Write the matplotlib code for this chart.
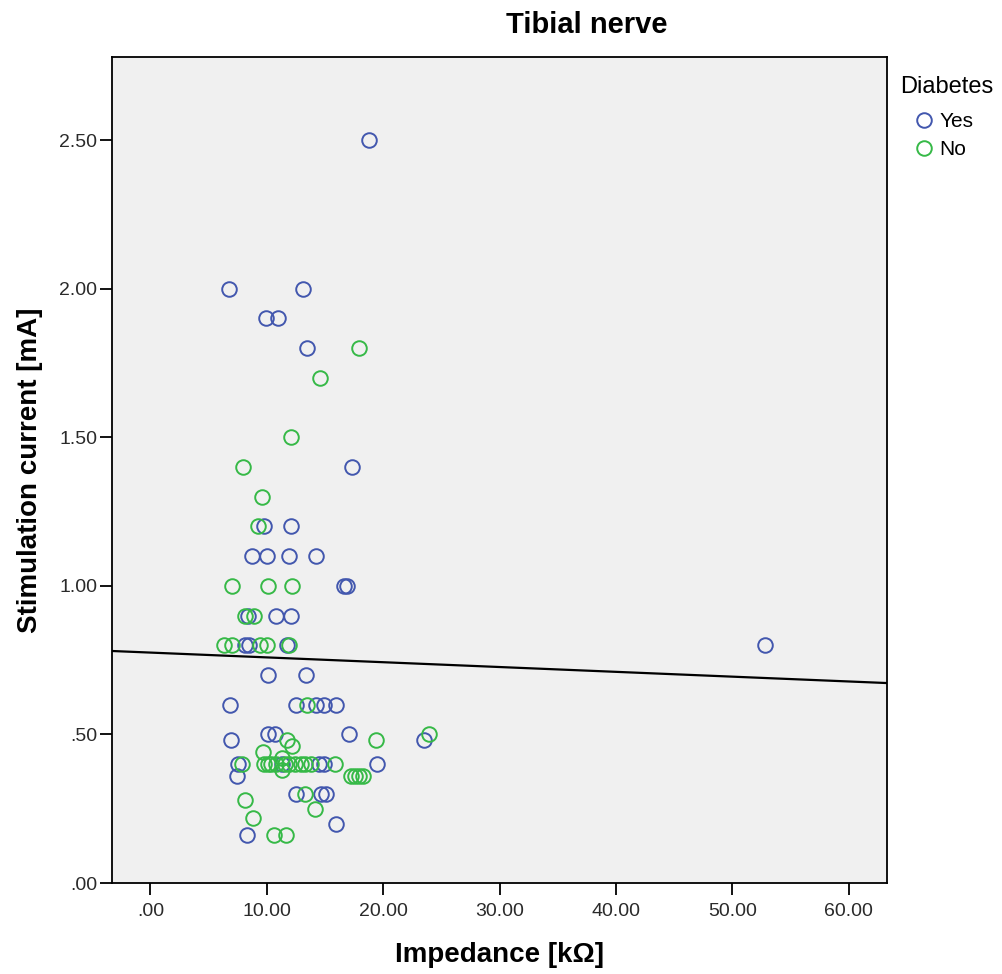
import matplotlib
matplotlib.use("Agg")
import matplotlib.pyplot as plt
from matplotlib.ticker import FuncFormatter
import numpy as np

# ---- data ----
yes_impedance = [18.75, 6.75, 13.13, 9.92, 10.98, 13.5, 17.33, 9.78, 12.04,
                 8.75, 9.98, 11.93, 14.2, 16.6, 16.9, 8.4, 10.8, 12.07,
                 8.12, 8.49, 11.78, 52.85, 10.1, 13.36, 6.83, 12.55, 14.27,
                 14.9, 15.93, 10.1, 10.7, 17.05, 6.92, 23.5, 7.55, 11.3,
                 14.5, 14.95, 19.5, 7.46, 12.55, 14.7, 15.13, 15.93, 8.27]
yes_current = [2.50, 2.00, 2.00, 1.90, 1.90, 1.80, 1.40, 1.20, 1.20,
               1.10, 1.10, 1.10, 1.10, 1.00, 1.00, 0.90, 0.90, 0.90,
               0.80, 0.80, 0.80, 0.80, 0.70, 0.70, 0.60, 0.60, 0.60,
               0.60, 0.60, 0.50, 0.50, 0.50, 0.48, 0.48, 0.40, 0.40,
               0.40, 0.40, 0.40, 0.36, 0.30, 0.30, 0.30, 0.20, 0.16]

no_impedance = [17.93, 14.6, 12.04, 7.98, 9.55, 9.27, 6.98, 10.12, 12.2,
                8.1, 8.9, 6.3, 7.0, 9.45, 10.0, 11.95, 13.47, 11.75, 12.2,
                19.4, 23.95, 9.64, 11.27, 7.83, 9.8, 10.1, 10.4, 10.8, 11.6,
                11.9, 12.4, 12.9, 13.3, 13.8, 15.85, 11.27, 17.2, 17.56,
                17.93, 18.27, 13.27, 8.12, 14.13, 8.83, 10.6, 11.64]
no_current = [1.80, 1.70, 1.50, 1.40, 1.30, 1.20, 1.00, 1.00, 1.00,
              0.90, 0.90, 0.80, 0.80, 0.80, 0.80, 0.80, 0.60, 0.48, 0.46,
              0.48, 0.50, 0.44, 0.42, 0.40, 0.40, 0.40, 0.40, 0.40, 0.40,
              0.40, 0.40, 0.40, 0.40, 0.40, 0.40, 0.38, 0.36, 0.36,
              0.36, 0.36, 0.30, 0.28, 0.25, 0.22, 0.16, 0.16]

# total fit line
fit_intercept = 0.7755
fit_slope = -0.00162

x_ticks = [0, 10, 20, 30, 40, 50, 60]
y_ticks = [0.0, 0.5, 1.0, 1.5, 2.0, 2.5]

# ---- styling ----
BLUE = "#4257AE"
GREEN = "#36B947"
FONT = ["Liberation Sans", "DejaVu Sans"]
plt.rcParams["font.family"] = FONT

W, H = 1002, 974
fig = plt.figure(figsize=(W / 100, H / 100), dpi=100)
ax = fig.add_axes([112 / W, 1 - 883 / H, (887 - 112) / W, (883 - 57) / H])
ax.set_facecolor("#F0F0F0")

xmin, xmax = -3.3, 63.3
ax.set_xlim(xmin, xmax)
ax.set_ylim(0, 2.78)

xs = np.array([xmin, xmax])
ax.plot(xs, fit_intercept + fit_slope * xs, color="black", lw=1.6, zorder=2)

ax.plot(yes_impedance, yes_current, linestyle="none", marker="o", ms=10.5,
        mfc="none", mec=BLUE, mew=1.4, label="Yes", zorder=3)
ax.plot(no_impedance, no_current, linestyle="none", marker="o", ms=10.5,
        mfc="none", mec=GREEN, mew=1.4, label="No", zorder=3)

def fmt(v, pos):
    s = f"{v:.2f}"
    if s.startswith("0."):
        s = s[1:]
    return s

ax.set_xticks(x_ticks)
ax.set_yticks(y_ticks)
ax.xaxis.set_major_formatter(FuncFormatter(fmt))
ax.yaxis.set_major_formatter(FuncFormatter(fmt))
ax.tick_params(axis="both", direction="out", length=8.5, width=1.3,
               labelsize=14, colors="black", labelcolor="#2a2a2a", pad=2)
ax.tick_params(axis="x", pad=6)
for sp in ax.spines.values():
    sp.set_linewidth(1.3)
    sp.set_color("black")

ax.set_xlabel("Impedance [kΩ]", fontsize=20, fontweight="bold", labelpad=16)
ax.set_ylabel("Stimulation current [mA]", fontsize=20, fontweight="bold", labelpad=12)
fig.text(587 / W, 1 - 25 / H, "Tibial nerve", fontsize=21, fontweight="bold",
         ha="center", va="center")

# legend
fig.text(900 / W, 1 - 87 / H, "Diabetes", fontsize=17, ha="left", va="center")
leg = fig.legend(loc="upper left", bbox_to_anchor=(915.5 / W, 1 - 112 / H),
                 frameon=False, fontsize=15, handletextpad=0.35,
                 handlelength=0.8, borderaxespad=0, borderpad=0,
                 labelspacing=0.45)

fig.savefig("out.png", dpi=100)
